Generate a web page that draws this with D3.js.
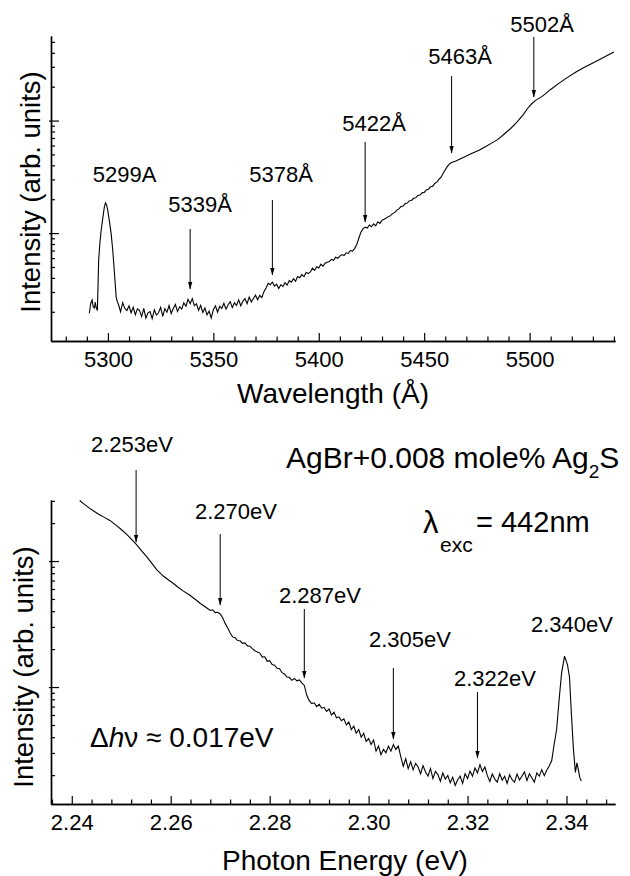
<!DOCTYPE html>
<html>
<head>
<meta charset="utf-8">
<script src="https://cdn.jsdelivr.net/npm/d3@7/dist/d3.min.js"></script>
<style>
  body { margin: 0; background: #fff; }
  svg text { font-family: "Liberation Sans", Arial, Helvetica, sans-serif; fill: #000; }
</style>
</head>
<body>
<svg id="chart" width="630" height="876"></svg>
<script>
// ---- top panel: emission vs wavelength (Å), intensity on log axis ----
const wavelengthMajor = [5300, 5350, 5400, 5450, 5500];
const wavelengthMinor = [5280, 5290, 5310, 5320, 5330, 5340, 5360, 5370, 5380, 5390, 5410, 5420,
                         5430, 5440, 5460, 5470, 5480, 5490, 5510, 5520, 5530, 5540];

const spectrumA = [
  [5291.2,0.194],[5291.8,0.236],[5292.5,0.254],[5293.0,0.222],[5293.6,0.216],[5294.0,0.244],[5294.4,0.220],
  [5295.0,0.205],[5295.6,0.575],[5296.2,0.82],[5296.8,1.06],[5297.6,1.38],[5298.3,1.70],[5298.8,1.86],
  [5299.3,1.80],[5299.9,1.60],[5300.7,1.28],[5301.5,1.00],[5302.3,0.70],[5303.1,0.44],[5303.9,0.27],
  [5304.5,0.245],[5305,0.232],[5306,0.200],[5307,0.241],[5308,0.214],[5309,0.205],[5310,0.226],
  [5311,0.196],[5312,0.219],[5313,0.188],[5314,0.212],[5315,0.205],[5316,0.181],[5317,0.214],
  [5318,0.176],[5319,0.196],[5320,0.201],[5321,0.174],[5322,0.208],[5323,0.187],[5324,0.196],
  [5325,0.219],[5326,0.182],[5327,0.213],[5328,0.198],[5329,0.227],[5330,0.193],[5331,0.214],
  [5332,0.232],[5333,0.201],[5334,0.221],[5335,0.212],[5336,0.240],[5337,0.224],[5338,0.258],
  [5339,0.236],[5340,0.262],[5341,0.226],[5342,0.236],[5343,0.206],[5344,0.228],[5345,0.197],
  [5346,0.216],[5347,0.188],[5348,0.203],[5349,0.176],[5350,0.209],[5351,0.226],[5352,0.198],
  [5353,0.224],[5354,0.214],[5355,0.238],[5356,0.211],[5357,0.231],[5358,0.246],[5359,0.218],
  [5360,0.240],[5361,0.228],[5362,0.255],[5363,0.226],[5364,0.248],[5365,0.262],[5366,0.236],
  [5367,0.270],[5368,0.244],[5369,0.262],[5370,0.281],[5371,0.256],[5372,0.279],[5373,0.268],
  [5374,0.302],[5375,0.326],[5376,0.358],[5377,0.348],[5378,0.366],[5379,0.338],[5380,0.352],
  [5381,0.322],[5382,0.347],[5383,0.336],[5384,0.362],[5385,0.345],[5386,0.378],[5387,0.366],
  [5388,0.394],[5389,0.374],[5390,0.412],[5391,0.402],[5392,0.428],[5393,0.411],[5394,0.446],
  [5395,0.437],[5396,0.452],[5397,0.488],[5398,0.466],[5399,0.503],[5400,0.490],[5401,0.530],
  [5402,0.508],[5403,0.540],[5404,0.552],[5405,0.560],[5406,0.585],[5407,0.572],[5408,0.610],
  [5409,0.598],[5410,0.624],[5411,0.645],[5412,0.632],[5413,0.668],[5414,0.660],[5415,0.700],
  [5416,0.692],[5417,0.728],[5418,0.790],[5419,0.900],[5420,1.02],[5421,1.09],[5422,1.13],
  [5423,1.11],[5424,1.18],[5425,1.14],[5426,1.21],[5427,1.16],[5428,1.26],[5429,1.22],[5430,1.30],
  [5431,1.33],[5432,1.36],[5433,1.40],[5434,1.43],[5435,1.49],[5436,1.52],[5437,1.60],[5438,1.64],
  [5439,1.72],[5440,1.74],[5441,1.83],[5442,1.85],[5443,1.94],[5444,1.95],[5445,2.04],[5446,2.06],
  [5447,2.16],[5448,2.18],[5449,2.28],[5450,2.30],[5451,2.42],[5452,2.45],[5453,2.58],[5454,2.60],
  [5455,2.76],[5456,2.84],[5457,3.00],[5458,3.14],[5459,3.40],[5460,3.66],[5461,3.92],[5462,4.12],
  [5463,4.24],[5464,4.30],[5465,4.38],[5467,4.56],[5470,4.84],[5473,5.14],[5476,5.44],[5479,5.84],
  [5482,6.30],[5485,6.80],[5488,7.60],[5491,8.50],[5494,9.70],[5497,11.3],[5499,12.8],[5501,14.1],
  [5503,15.2],[5506,16.4],[5510,18.9],[5514,21.5],[5518,24.2],[5522,27.0],[5526,29.8],[5530,32.5],
  [5535,36.4],[5540,40.6]
];

const peaksA = [5339, 5378, 5422, 5463, 5502];
const peakLabelsA = ["5339Å", "5378Å", "5422Å", "5463Å", "5502Å"];
const laserLabelA = "5299A";

// ---- bottom panel: same spectrum vs photon energy (eV) ----
const energyMajor = [2.24, 2.26, 2.28, 2.30, 2.32, 2.34];
const energyMinor = [2.236, 2.244, 2.248, 2.252, 2.256, 2.264, 2.268, 2.272, 2.276, 2.284, 2.288,
                     2.292, 2.296, 2.304, 2.308, 2.312, 2.316, 2.324, 2.328, 2.332, 2.336, 2.344, 2.348];

const spectrumE = [
  [2.2416,30.2],[2.2425,28.3],[2.2435,26.4],[2.2445,24.8],[2.2455,23.4],[2.2465,22.3],[2.2477,21.0],
  [2.2490,19.2],[2.2500,17.8],[2.2510,16.4],[2.2520,15.0],[2.2530,13.6],[2.2540,12.2],[2.2550,11.0],
  [2.2560,9.8],[2.2572,8.5],[2.2585,7.6],[2.2595,7.1],[2.2604,6.7],[2.2615,6.2],[2.2625,5.8],
  [2.2638,5.37],[2.2650,4.95],[2.2660,4.60],[2.2673,4.24],[2.2680,4.05],[2.2685,4.10],[2.2690,3.90],
  [2.2695,3.92],[2.2700,3.80],[2.2705,3.55],[2.2710,3.20],[2.2715,2.95],[2.2720,2.70],[2.2725,2.50],
  [2.2730,2.46],[2.2735,2.34],[2.2740,2.33],[2.2745,2.22],[2.2750,2.24],[2.2755,2.12],[2.2760,2.11],
  [2.2765,2.02],[2.2770,1.94],[2.2775,1.90],[2.2780,1.86],[2.2785,1.73],[2.2790,1.74],[2.2795,1.60],
  [2.2800,1.62],[2.2805,1.51],[2.2810,1.49],[2.2815,1.41],[2.2820,1.40],[2.2825,1.30],[2.2830,1.27],
  [2.2835,1.20],[2.2840,1.19],[2.2845,1.13],[2.2850,1.17],[2.2855,1.12],[2.2860,1.14],[2.2865,1.08],
  [2.2870,1.03],[2.2875,0.86],[2.2880,0.78],[2.2885,0.74],[2.2890,0.75],[2.2895,0.70],[2.2900,0.73],
  [2.2905,0.68],[2.2910,0.69],[2.2915,0.64],[2.2920,0.67],[2.2925,0.60],[2.2930,0.63],[2.2935,0.57],
  [2.2940,0.58],[2.2945,0.54],[2.2950,0.56],[2.2955,0.50],[2.2960,0.53],[2.2965,0.46],[2.2970,0.49],
  [2.2975,0.43],[2.2980,0.46],[2.2985,0.40],[2.2990,0.43],[2.2995,0.37],[2.3000,0.39],[2.3005,0.35],
  [2.3010,0.38],[2.3015,0.31],[2.3020,0.34],[2.3025,0.29],[2.3030,0.32],[2.3035,0.30],[2.3040,0.34],
  [2.3045,0.31],[2.3050,0.35],[2.3055,0.32],[2.3060,0.34],[2.3065,0.28],[2.3070,0.235],[2.3075,0.27],
  [2.3080,0.225],[2.3085,0.255],[2.3090,0.22],[2.3095,0.248],[2.3100,0.232],[2.3105,0.205],[2.3110,0.238],
  [2.3115,0.212],[2.3120,0.196],[2.3125,0.226],[2.3130,0.188],[2.3135,0.214],[2.3140,0.202],[2.3145,0.179],
  [2.3150,0.208],[2.3155,0.186],[2.3160,0.199],[2.3165,0.174],[2.3170,0.192],[2.3175,0.166],[2.3180,0.184],
  [2.3185,0.196],[2.3190,0.172],[2.3195,0.205],[2.3200,0.188],[2.3205,0.215],[2.3210,0.196],[2.3215,0.228],
  [2.3220,0.208],[2.3225,0.242],[2.3230,0.214],[2.3235,0.232],[2.3240,0.198],[2.3245,0.178],[2.3250,0.204],
  [2.3255,0.186],[2.3260,0.176],[2.3265,0.205],[2.3270,0.182],[2.3275,0.196],[2.3280,0.172],[2.3285,0.201],
  [2.3290,0.184],[2.3295,0.176],[2.3300,0.204],[2.3305,0.183],[2.3310,0.197],[2.3315,0.212],[2.3320,0.181],
  [2.3325,0.205],[2.3330,0.190],[2.3335,0.176],[2.3340,0.208],[2.3345,0.196],[2.3350,0.221],[2.3355,0.198],
  [2.3360,0.219],[2.3365,0.236],[2.3370,0.26],[2.3375,0.35],[2.3380,0.46],[2.3385,0.79],[2.3390,1.29],
  [2.3396,1.76],[2.3402,1.50],[2.3406,1.20],[2.3410,0.60],[2.3414,0.32],[2.3418,0.21],[2.3421,0.25],
  [2.3424,0.22],[2.3427,0.19],[2.3430,0.18]
];

const peaksE = [2.253, 2.270, 2.287, 2.305, 2.322];
const peakLabelsE = ["2.253eV", "2.270eV", "2.287eV", "2.305eV", "2.322eV"];
const laserLabelE = "2.340eV";

// label / arrow placement in pixels (layout only)
const topNotes = [
  {lx: 200, ly: 212, y1: 229, y2: 289},
  {lx: 281, ly: 182, y1: 200, y2: 275},
  {lx: 374, ly: 131, y1: 142, y2: 222},
  {lx: 460, ly: 64,  y1: 76,  y2: 153},
  {lx: 542, ly: 32,  y1: 37,  y2: 97}
];
const botNotes = [
  {lx: 132, ly: 452, y1: 470, y2: 542},
  {lx: 236, ly: 519, y1: 534, y2: 605},
  {lx: 320, ly: 603, y1: 609, y2: 678},
  {lx: 410, ly: 647, y1: 668, y2: 739},
  {lx: 495, ly: 686, y1: 692, y2: 758}
];

const svg = d3.select("#chart");
svg.append("rect").attr("width", 630).attr("height", 876).attr("fill", "#fff");

svg.append("defs").append("marker")
    .attr("id", "head")
    .attr("markerUnits", "userSpaceOnUse")
    .attr("viewBox", "0 0 8 8")
    .attr("refX", 7.5).attr("refY", 4)
    .attr("markerWidth", 8).attr("markerHeight", 8)
    .attr("orient", "auto")
  .append("path")
    .attr("d", "M0,1.7 L8,4 L0,6.3 Z")
    .attr("fill", "#000");

const left = 51, right = 615;

// top scales
let xA = d3.scaleLinear().domain([5273, 5540.5]).range([left, right]);
let yA = d3.scaleLog().domain([0.11, 56.4]).range([341, 36]);
// bottom scales
let xE = d3.scaleLinear().domain([2.2358, 2.3498]).range([left, right]);
let yE = d3.scaleLog().domain([0.118, 30.5]).range([804, 500]);

function isDecade(v) {
    let l = Math.log10(v);
    return Math.abs(l - Math.round(l)) < 1e-6;
}

function drawAxes(x, y, major, minor, fmt, base) {
    let g = svg.append("g");
    g.append("g")
        .attr("transform", "translate(0," + base + ")")
        .call(d3.axisBottom(x).tickValues(minor).tickSizeInner(-4.5).tickSizeOuter(0).tickFormat(""));
    g.append("g")
        .attr("transform", "translate(0," + base + ")")
        .call(d3.axisBottom(x).tickValues(major).tickSizeInner(-8).tickSizeOuter(0).tickPadding(10.5).tickFormat(fmt));

    let yt = y.ticks();
    g.append("g")
        .attr("transform", "translate(" + left + ",0)")
        .call(d3.axisLeft(y).tickValues(yt.filter(v => !isDecade(v))).tickSizeInner(-4).tickSizeOuter(0).tickFormat(""));
    g.append("g")
        .attr("transform", "translate(" + left + ",0)")
        .call(d3.axisLeft(y).tickValues(yt.filter(isDecade)).tickSizeInner(-8).tickSizeOuter(0).tickFormat(""))
        .selectAll(".tick line").attr("x1", -2);

    g.selectAll(".domain").attr("stroke", "#000").attr("stroke-width", 1.4);
    g.selectAll(".tick line").attr("stroke", "#000").attr("stroke-width", 1.2);
    g.selectAll(".tick text")
        .attr("font-family", "'Liberation Sans', Arial, sans-serif")
        .attr("font-size", 22);
}

function drawCurve(data, x, y) {
    svg.append("path")
        .datum(data)
        .attr("fill", "none")
        .attr("stroke", "#000")
        .attr("stroke-width", 1.1)
        .attr("stroke-linejoin", "miter")
        .attr("d", d3.line().x(d => x(d[0])).y(d => y(d[1])));
}

function drawNotes(peaks, labels, notes, x) {
    peaks.forEach(function (p, i) {
        let n = notes[i];
        svg.append("text")
            .attr("x", n.lx).attr("y", n.ly)
            .attr("text-anchor", "middle")
            .attr("font-size", 22)
            .text(labels[i]);
        svg.append("line")
            .attr("x1", x(p)).attr("x2", x(p))
            .attr("y1", n.y1).attr("y2", n.y2)
            .attr("stroke", "#000").attr("stroke-width", 1)
            .attr("marker-end", "url(#head)");
    });
}

// top panel
drawAxes(xA, yA, wavelengthMajor, wavelengthMinor, d3.format("d"), 341);
drawCurve(spectrumA, xA, yA);
drawNotes(peaksA, peakLabelsA, topNotes, xA);
svg.append("text").attr("x", 124.5).attr("y", 182).attr("text-anchor", "middle")
    .attr("font-size", 22).text(laserLabelA);

svg.append("text")
    .attr("transform", "translate(40,192) rotate(-90)")
    .attr("text-anchor", "middle").attr("font-size", 27.5)
    .text("Intensity (arb. units)");
svg.append("text")
    .attr("x", 333).attr("y", 403).attr("text-anchor", "middle").attr("font-size", 28)
    .text("Wavelength (Å)");

// bottom panel
drawAxes(xE, yE, energyMajor, energyMinor, d3.format(".2f"), 804);
drawCurve(spectrumE, xE, yE);
drawNotes(peaksE, peakLabelsE, botNotes, xE);
svg.append("text").attr("x", 572).attr("y", 632).attr("text-anchor", "middle")
    .attr("font-size", 22).text(laserLabelE);

svg.append("text")
    .attr("transform", "translate(33,667) rotate(-90)")
    .attr("text-anchor", "middle").attr("font-size", 27.5)
    .text("Intensity (arb. units)");
svg.append("text")
    .attr("x", 345).attr("y", 870).attr("text-anchor", "middle").attr("font-size", 28)
    .text("Photon Energy (eV)");

// sample and excitation notes
let sample = svg.append("text").attr("x", 286).attr("y", 468).attr("font-size", 30);
sample.append("tspan").text("AgBr+0.008 mole% Ag");
sample.append("tspan").attr("font-size", 19).attr("dy", 10).text("2");
sample.append("tspan").attr("dy", -10).text("S");

svg.append("text").attr("x", 423).attr("y", 533).attr("font-size", 31).text("λ");
svg.append("text").attr("x", 440).attr("y", 552).attr("font-size", 21).text("exc");
svg.append("text").attr("x", 476).attr("y", 532).attr("font-size", 29).text("= 442nm");

let delta = svg.append("text").attr("x", 90).attr("y", 747).attr("font-size", 28);
delta.append("tspan").text("Δ");
delta.append("tspan").attr("font-style", "italic").text("h");
delta.append("tspan").text("ν ≈ 0.017eV");
</script>
</body>
</html>
